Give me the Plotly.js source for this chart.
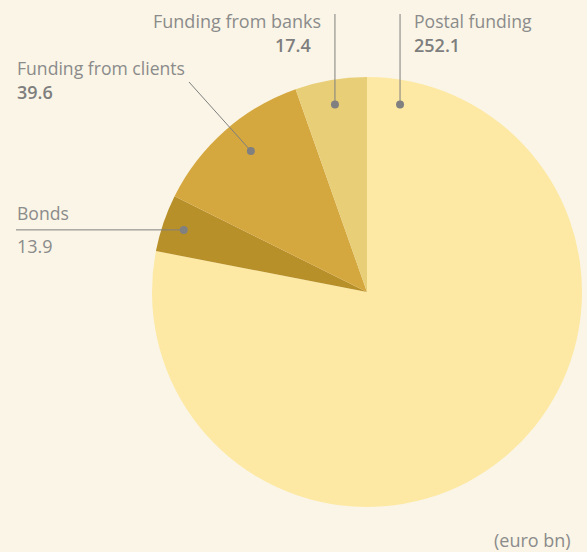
<!DOCTYPE html>
<html><head><meta charset="utf-8">
<script src="https://cdn.plot.ly/plotly-3.0.1.min.js"></script>
<style>html,body{margin:0;padding:0;background:#FAF5E6;}#chart{width:587px;height:552px;}</style>
</head><body><div id="chart"></div>
<script>
const labels = ["Postal funding", "Bonds", "Funding from clients", "Funding from banks"];
const values = [252.1, 13.9, 39.6, 17.4];
const valueText = ["252.1", "13.9", "39.6", "17.4"];
const colors = ["#FDE9A4", "#B8902A", "#D5A73F", "#E8CE77"];

const W = 587, H = 552;
const cx = 367, cy = 292, R = 215;
const total = values.reduce((a, b) => a + b, 0);

// mid angles (degrees clockwise from 12 o'clock)
let acc = 0;
const mids = values.map(v => { const m = (acc + v / 2) / total * 360; acc += v; return m; });
const dotAngle = [10, mids[1], mids[2] + 2, mids[3]];
const dotR = [0.885, 0.9, 0.85, 0.885];
const dots = dotAngle.map((a, i) => {
  const t = a * Math.PI / 180;
  return [cx + R * dotR[i] * Math.sin(t), cy - R * dotR[i] * Math.cos(t)];
});
const px = x => x / W, py = y => 1 - y / H;

// leader line start points (label side)
const lineStart = [[null, 14], [16, null], [189, 82], [null, 14]];

const shapes = [];
const grey = "#7f7f7f";
dots.forEach((d, i) => {
  let s = lineStart[i];
  let x0 = s[0] === null ? d[0] : s[0];
  let y0 = s[1] === null ? d[1] : s[1];
  shapes.push({type: "line", xref: "paper", yref: "paper", x0: px(x0), y0: py(y0), x1: px(d[0]), y1: py(d[1]), line: {color: grey, width: 1}});
  shapes.push({type: "circle", xref: "paper", yref: "paper", xsizemode: "pixel", ysizemode: "pixel",
    xanchor: px(d[0]), yanchor: py(d[1]), x0: -4, x1: 4, y0: -4, y1: 4, fillcolor: "#808080", line: {width: 0}});
});

const font = "Open Sans, Noto Sans, sans-serif";
const tc = "#8b8b8b";
function ann(text, x, y, anchor, bold, size) {
  return {text: text, xref: "paper", yref: "paper", x: px(x), y: py(y),
    xanchor: anchor, yanchor: "middle", showarrow: false,
    font: {family: font, size: size || 17.6, color: bold ? "#7e7e7e" : tc, weight: bold ? 600 : 400}};
}
const annotations = [
  ann(labels[3], 323, 20.5, "right", false, 18),
  ann(valueText[3], 313, 45, "right", true, 18),
  ann(labels[0], 412, 20.5, "left"),
  ann(valueText[0], 412, 45, "left", true, 18),
  ann(labels[2], 15, 67.5, "left"),
  ann(valueText[2], 15, 91.5, "left", true, 18),
  ann(labels[1], 15, 213, "left"),
  ann(valueText[1], 15, 246, "left", false, 18),
  ann("(euro bn)", 573, 540, "right", false, 18)
];

const trace = {
  type: "pie", labels: labels, values: values, sort: false, direction: "clockwise", rotation: 0,
  textinfo: "none", hoverinfo: "label+value",
  marker: {colors: colors, line: {width: 0}},
  domain: {x: [(cx - R) / W, (cx + R) / W], y: [1 - (cy + R) / H, 1 - (cy - R) / H]},
  showlegend: false
};
Plotly.newPlot("chart", [trace], {
  width: W, height: H, margin: {l: 0, r: 0, t: 0, b: 0},
  paper_bgcolor: "#FAF5E6", plot_bgcolor: "#FAF5E6",
  showlegend: false, shapes: shapes, annotations: annotations
}, {displayModeBar: false, staticPlot: true});
</script></body></html>
